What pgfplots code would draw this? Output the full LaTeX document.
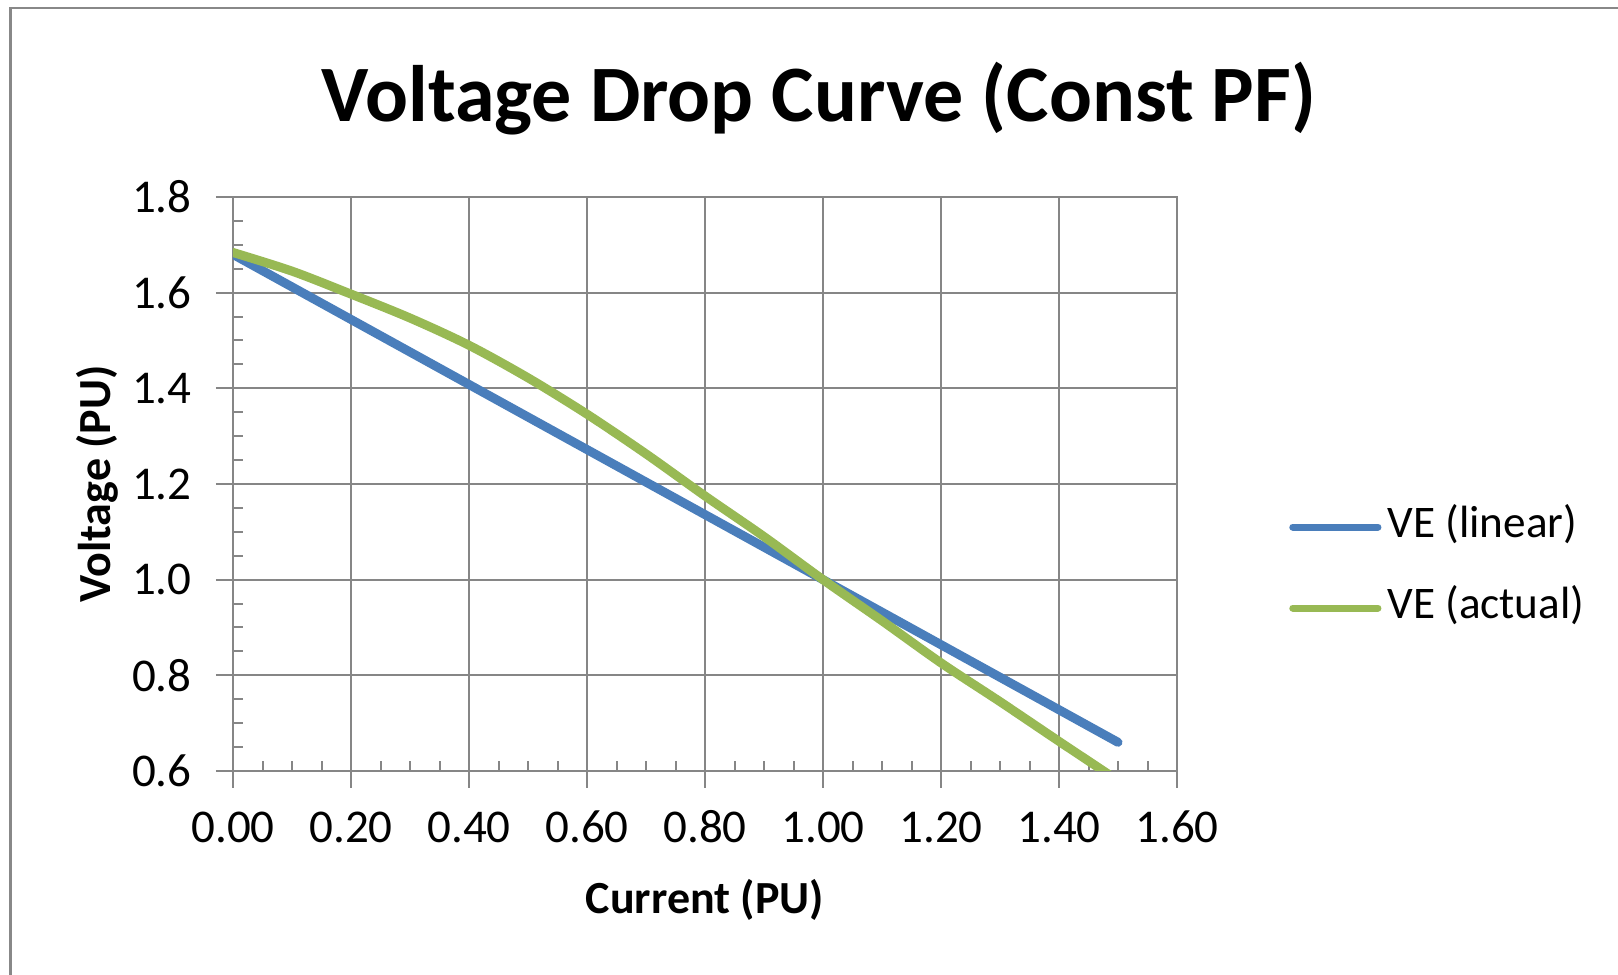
\documentclass[border=0pt]{standalone}
\usepackage{pgfplots}
\pgfplotsset{compat=1.18}
\usepackage{fontspec}
\setmainfont{Carlito}
\definecolor{lblue}{HTML}{4A7EBB}
\definecolor{lgreen}{HTML}{98B954}
\definecolor{gridc}{RGB}{134,134,134}
\definecolor{bordc}{RGB}{136,136,136}
\begin{document}
\begin{tikzpicture}
\path[use as bounding box] (0pt,0pt) rectangle (809pt,487.5pt);
\draw[bordc, line width=1.2pt] (5.25pt,-2pt) -- (5.25pt,483.5pt) -- (812pt,483.5pt);
\node[anchor=base, font=\fontsize{40}{48}\selectfont\bfseries, inner sep=0pt] at (409.5pt,426.5pt) {Voltage Drop Curve (Const PF)};
\begin{axis}[
  at={(116.5pt,102pt)}, anchor=south west,
  width=472pt, height=287pt, scale only axis,
  xmin=0, xmax=1.6, ymin=0.6, ymax=1.8,
  xtick={0,0.2,0.4,0.6,0.8,1.0,1.2,1.4,1.6},
  ytick={0.6,0.8,1.0,1.2,1.4,1.6,1.8},
  minor x tick num=3, minor y tick num=3,
  xtick pos=left, ytick pos=left,
  tick align=inside,
  major tick length=8.5pt, minor tick length=5pt,
  major x tick style={yshift=-8.5pt},
  major y tick style={xshift=-8.5pt},
  every tick/.style={gridc, line width=1pt},
  grid=major,
  major grid style={gridc, line width=1pt},
  axis line style={gridc, line width=1pt},
  /pgf/number format/assume math mode=true,
  xticklabel style={/pgf/number format/.cd, fixed, fixed zerofill, precision=2, /tikz/.cd, anchor=base, inner sep=0pt, yshift=-36pt, font=\fontsize{23.5}{28}\selectfont},
  yticklabel style={/pgf/number format/.cd, fixed, fixed zerofill, precision=1, /tikz/.cd, anchor=east, inner sep=0pt, xshift=-20.5pt, font=\fontsize{23.5}{28}\selectfont},
  xlabel={Current (PU)},
  ylabel={Voltage (PU)},
  xlabel style={at={(axis description cs:0.5,-0.2474)}, anchor=base, inner sep=0pt, font=\fontsize{23}{27}\selectfont\bfseries},
  ylabel style={at={(axis description cs:-0.1303,0.5)}, anchor=base, inner sep=0pt, font=\fontsize{23}{27}\selectfont\bfseries},
  legend style={at={(axis description cs:1.1185,0.3545)}, anchor=west, draw=none, fill=none, inner sep=0pt, row sep=18.5pt,
     nodes={inner xsep=3pt, inner ysep=0pt, text height=16pt, text depth=6pt}, font=\fontsize{22.6}{27}\selectfont},
  legend cell align=left,
  legend image code/.code={\draw[#1, line width=3.5pt, line cap=round] (0pt,0pt) -- (42.6pt,0pt);},
]
\addplot[lblue, line width=4.5pt, line cap=round, line join=round] coordinates {
 (0,1.68) (0.5,1.34) (1.0,1.00) (1.5,0.66)
};
\addlegendentry{VE (linear)}
\addplot[lgreen, line width=4.5pt, line cap=round, line join=round, smooth, tension=0.5] coordinates {
 (0.0,1.684) (0.1,1.645) (0.2,1.597) (0.3,1.547) (0.4,1.490) (0.5,1.422)
 (0.6,1.346) (0.7,1.263) (0.8,1.175) (0.9,1.090) (1.0,1.000) (1.1,0.914)
 (1.2,0.826) (1.3,0.745) (1.4,0.662) (1.5,0.580)
};
\addlegendentry{VE (actual)}
\end{axis}
\end{tikzpicture}
\end{document}
